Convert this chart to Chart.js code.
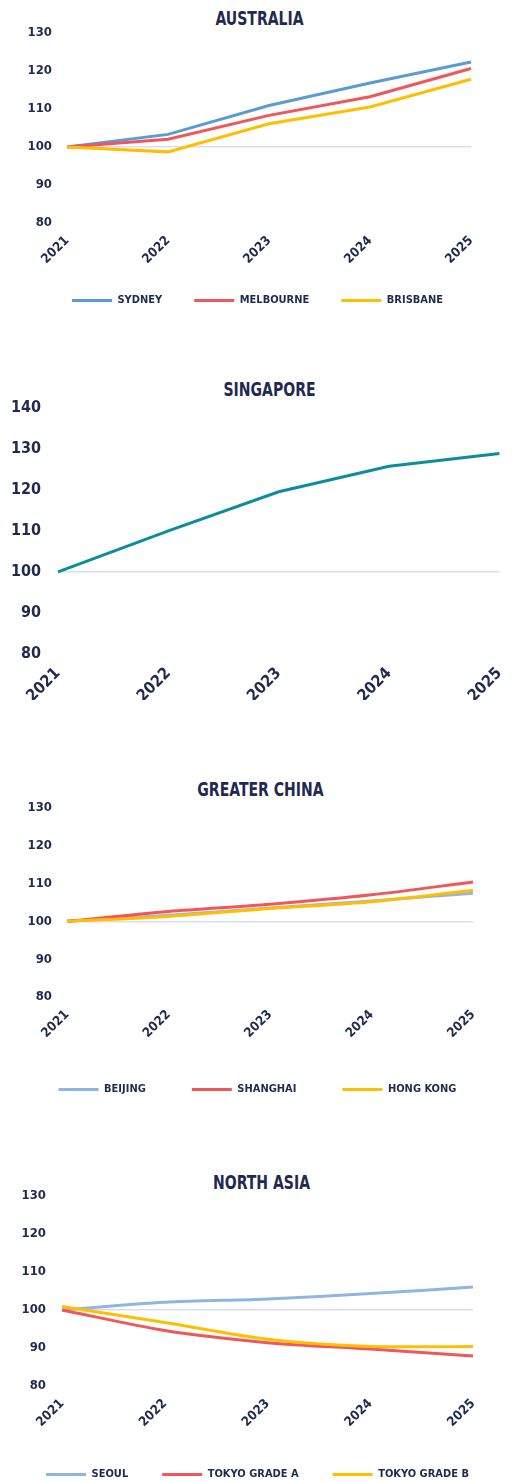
<!DOCTYPE html>
<html lang="en">
  <head>
    <meta charset="UTF-8" />
    <title>Rental index by market, 2021 = 100</title>
    <script src="https://cdn.jsdelivr.net/npm/chart.js"></script>
    <style>
      body {
        margin: 0;
        width: 515px;
        height: 1482px;
        overflow: hidden;
        position: relative;
        background: #fff;
        font-family: "Liberation Sans Narrow", "DejaVu Sans Condensed", sans-serif;
      }
      .title {
        position: absolute;
        width: 515px;
        line-height: 24px;
        text-align: center;
        font-size: 20px;
        font-weight: bold;
        color: #1f2a50;
        transform: scaleX(0.78);
      }
      canvas {
        position: absolute;
        left: 0;
      }
    </style>
  </head>
  <body>
    <div class="title" style="left: 2px; top: 6px">AUSTRALIA</div>
    <div class="title" style="left: 12px; top: 377px">SINGAPORE</div>
    <div class="title" style="left: 3px; top: 777px">GREATER CHINA</div>
    <div class="title" style="left: 4px; top: 1170px">NORTH ASIA</div>

    <canvas id="australia" width="515" height="306" style="top: 10px"></canvas>
    <canvas id="singapore" width="515" height="335" style="top: 381px"></canvas>
    <canvas id="china" width="515" height="320" style="top: 785px"></canvas>
    <canvas id="northAsia" width="515" height="318" style="top: 1172px"></canvas>

    <script>
      // 연도 (x축)
      const years = ["2021", "2022", "2023", "2024", "2025"];

      // 호주
      const sydney = [100, 103.3, 110.9, 116.8, 122.3];
      const melbourne = [100, 102.0, 108.3, 113.2, 120.6];
      const brisbane = [100, 98.7, 106.1, 110.5, 117.8];

      // 싱가포르
      const singapore = [100, 110.0, 119.5, 125.7, 128.8];

      // 중화권
      const beijing = [100, 101.6, 103.5, 105.4, 107.4];
      const shanghai = [100, 102.6, 104.5, 107.0, 110.4];
      const hongKong = [100, 101.3, 103.4, 105.2, 108.2];

      // 북아시아
      const seoul = [100, 102.0, 102.9, 104.3, 106.0];
      const tokyoGradeA = [100, 94.6, 91.4, 89.7, 87.9];
      const tokyoGradeB = [100.9, 96.7, 92.3, 90.4, 90.4];

      const navy = "#1f2a50";
      const fontFamily = '"Liberation Sans Narrow", "DejaVu Sans Condensed", sans-serif';

      function renderChart(id, series, o) {
        new Chart(document.getElementById(id), {
          type: "line",
          data: {
            labels: years,
            datasets: series.map((s, i) => ({
              label: s.label,
              data: s.data,
              borderColor: s.color,
              backgroundColor: s.color,
              borderWidth: 3,
              pointRadius: 0,
              tension: o.tension,
              order: series.length - i, // 나중 데이터가 위에 그려지도록
            })),
          },
          options: {
            responsive: false,
            animation: false,
            layout: { padding: { top: 10, bottom: o.padBottom, left: 0, right: 0 } },
            plugins: {
              tooltip: { enabled: false },
              legend: {
                display: o.legendPad > 0,
                position: "bottom",
                labels: {
                  usePointStyle: true,
                  pointStyle: "line",
                  pointStyleWidth: 40,
                  padding: o.legendPad,
                  color: navy,
                  font: { family: fontFamily, size: 11, weight: "bold" },
                  sort: (a, b) => a.datasetIndex - b.datasetIndex,
                },
              },
            },
            scales: {
              x: {
                grid: { display: false },
                border: { display: false },
                ticks: {
                  color: navy,
                  font: { family: fontFamily, size: o.tickSize, weight: "bold" },
                  minRotation: 45,
                  maxRotation: 45,
                  padding: 2,
                },
                afterFit: (s) => { s.height = o.xHeight; },
              },
              y: {
                min: 80,
                max: o.max,
                border: { display: false },
                grid: {
                  drawTicks: false,
                  lineWidth: 1.5,
                  color: (c) => (c.tick && c.tick.value === 100 ? "#d9ddf2" : "transparent"),
                },
                ticks: {
                  stepSize: 10,
                  padding: o.yPad,
                  color: navy,
                  font: { family: fontFamily, size: o.tickSize, weight: "bold" },
                },
                afterFit: (s) => { s.width = o.left; },
              },
              // 오른쪽 여백용 빈 축
              right: {
                position: "right",
                grid: { display: false },
                border: { display: false },
                ticks: { display: false },
                afterFit: (s) => { s.width = o.right; },
              },
            },
          },
        });
      }

      renderChart("australia", [
        { label: "SYDNEY", data: sydney, color: "#5b9bd5" },
        { label: "MELBOURNE", data: melbourne, color: "#f0565a" },
        { label: "BRISBANE", data: brisbane, color: "#ffbf00" },
      ], { max: 130, tension: 0, tickSize: 13, left: 67, right: 44, yPad: 15, xHeight: 40, legendPad: 32, padBottom: 0 });

      renderChart("singapore", [
        { label: "SINGAPORE", data: singapore, color: "#0c8d9c" },
      ], { max: 140, tension: 0, tickSize: 16, left: 58, right: 14, yPad: 17, xHeight: 46, legendPad: 0, padBottom: 16 });

      renderChart("china", [
        { label: "BEIJING", data: beijing, color: "#8fb6e2" },
        { label: "SHANGHAI", data: shanghai, color: "#f0565a" },
        { label: "HONG KONG", data: hongKong, color: "#ffbf00" },
      ], { max: 130, tension: 0.3, tickSize: 13, left: 67, right: 42, yPad: 15, xHeight: 41, legendPad: 46, padBottom: 0 });

      renderChart("northAsia", [
        { label: "SEOUL", data: seoul, color: "#8fb6e2" },
        { label: "TOKYO GRADE A", data: tokyoGradeA, color: "#f0565a" },
        { label: "TOKYO GRADE B", data: tokyoGradeB, color: "#ffbf00" },
      ], { max: 130, tension: 0.3, tickSize: 13, left: 62, right: 42, yPad: 16, xHeight: 49, legendPad: 34, padBottom: 0 });
    </script>
  </body>
</html>
